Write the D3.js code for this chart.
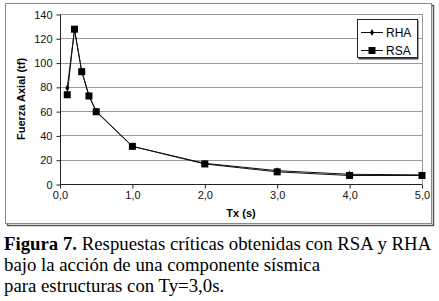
<!DOCTYPE html>
<html>
<head>
<meta charset="utf-8">
<script src="https://cdn.jsdelivr.net/npm/d3@7"></script>
<style>
  body { margin: 0; background: #fff; }
  svg { display: block; }
</style>
</head>
<body>
<div id="chart"></div>
<script>
// Datos
var periods = [0.1, 0.2, 0.3, 0.4, 0.5, 1.0, 2.0, 3.0, 4.0, 5.0];
var rha = [79, 127, 93, 73, 60, 31, 17, 11, 8, 7.5];
var rsa = [73.5, 127.5, 92.5, 72.5, 59.5, 31, 16.5, 10, 7, 7];
var xTicks = [0, 1, 2, 3, 4, 5];
var yTicks = [0, 20, 40, 60, 80, 100, 120, 140];
var seriesNames = ['RHA', 'RSA'];

var W = 439, H = 301;
var svg = d3.select('#chart').append('svg')
  .attr('width', W)
  .attr('height', H);

// marco exterior
svg.append('rect')
  .attr('x', 7.5).attr('y', 5.5)
  .attr('width', 426).attr('height', 220)
  .attr('fill', 'none').attr('stroke', '#555').attr('stroke-width', 1.5);
svg.append('rect')
  .attr('x', 5.5).attr('y', 3.5)
  .attr('width', 426).attr('height', 220)
  .attr('fill', '#fff').attr('stroke', '#888').attr('stroke-width', 1);

var x = d3.scaleLinear().domain([0, 5]).range([60, 422]);
var y = d3.scaleLinear().domain([0, 140]).range([184, 14]);

// rejilla
svg.append('g')
  .selectAll('line')
  .data(yTicks.filter(function(d) { return d > 0; }))
  .join('line')
    .attr('x1', x(0)).attr('x2', x(5))
    .attr('y1', function(d) { return Math.round(y(d)) + 0.5; })
    .attr('y2', function(d) { return Math.round(y(d)) + 0.5; })
    .attr('stroke', '#9a9a9a');

svg.append('line')
  .attr('x1', x(5) + 0.5).attr('x2', x(5) + 0.5)
  .attr('y1', y(140)).attr('y2', y(0))
  .attr('stroke', '#9a9a9a');

// ejes
var yAxis = d3.axisLeft(y)
  .tickValues(yTicks)
  .tickSize(4)
  .tickPadding(4);
var xAxis = d3.axisBottom(x)
  .tickValues(xTicks)
  .tickSize(4)
  .tickPadding(3)
  .tickFormat(function(d) { return d.toFixed(1).replace('.', ','); });

var gy = svg.append('g')
  .attr('transform', 'translate(' + (x(0) + 0.5) + ',0.5)')
  .call(yAxis);
var gx = svg.append('g')
  .attr('transform', 'translate(0,' + (y(0) + 0.5) + ')')
  .call(xAxis);

[gx, gy].forEach(function(g) {
  g.select('.domain').attr('stroke', '#222');
  g.selectAll('.tick line').attr('stroke', '#222');
  g.selectAll('text')
    .attr('fill', '#111')
    .style('font-family', 'Liberation Sans, Arial, sans-serif')
    .style('font-size', '11px');
});
gx.select('.domain').attr('d', 'M' + x(0) + ',0H' + x(5));
gy.select('.domain').attr('d', 'M0,' + y(140) + 'V' + y(0));

// titulos de ejes
svg.append('text')
  .attr('x', (x(0) + x(5)) / 2).attr('y', 217)
  .attr('text-anchor', 'middle')
  .style('font-family', 'Liberation Sans, Arial, sans-serif')
  .style('font-size', '11px').style('font-weight', 'bold')
  .text('Tx (s)');
svg.append('text')
  .attr('transform', 'translate(25,' + ((y(0) + y(140)) / 2) + ') rotate(-90)')
  .attr('text-anchor', 'middle')
  .style('font-family', 'Liberation Sans, Arial, sans-serif')
  .style('font-size', '11px').style('font-weight', 'bold')
  .text('Fuerza Axial (tf)');

// series
var line = d3.line()
  .x(function(d) { return x(d[0]); })
  .y(function(d) { return y(d[1]); });

var rhaPts = d3.zip(periods, rha);
var rsaPts = d3.zip(periods, rsa);

svg.append('path')
  .attr('d', line(rsaPts))
  .attr('fill', 'none').attr('stroke', '#111').attr('stroke-width', 1);
svg.append('path')
  .attr('d', line(rhaPts))
  .attr('fill', 'none').attr('stroke', '#111').attr('stroke-width', 1);

svg.append('g')
  .selectAll('rect')
  .data(rsaPts)
  .join('rect')
    .attr('x', function(d) { return x(d[0]) - 3.5; })
    .attr('y', function(d) { return y(d[1]) - 3.5; })
    .attr('width', 7).attr('height', 7)
    .attr('fill', '#000');

var diamond = d3.symbol().type(d3.symbolDiamond).size(14);
svg.append('g')
  .selectAll('path')
  .data(rhaPts)
  .join('path')
    .attr('transform', function(d) { return 'translate(' + x(d[0]) + ',' + y(d[1]) + ')'; })
    .attr('d', diamond)
    .attr('fill', '#000');

// leyenda
var lg = svg.append('g').attr('transform', 'translate(357,19)');
lg.append('rect')
  .attr('x', 1.5).attr('y', 1.5).attr('width', 60).attr('height', 39)
  .attr('fill', '#444');
lg.append('rect')
  .attr('x', 0.5).attr('y', 0.5).attr('width', 60).attr('height', 38)
  .attr('fill', '#fff').attr('stroke', '#222');

var items = lg.selectAll('g.item')
  .data(seriesNames)
  .join('g')
    .attr('class', 'item')
    .attr('transform', function(d, i) { return 'translate(0,' + (13 + i * 18) + ')'; });

items.append('line')
  .attr('x1', 4).attr('x2', 26).attr('y1', 0.5).attr('y2', 0.5)
  .attr('stroke', '#111');
items.each(function(d, i) {
  var g = d3.select(this);
  if (i === 0) {
    g.append('path').attr('transform', 'translate(15,0.5)').attr('d', diamond).attr('fill', '#000');
  } else {
    g.append('rect').attr('x', 11.5).attr('y', -3).attr('width', 7).attr('height', 7).attr('fill', '#000');
  }
});
items.append('text')
  .attr('x', 29).attr('y', 4.5)
  .style('font-family', 'Liberation Sans, Arial, sans-serif')
  .style('font-size', '12px')
  .text(function(d) { return d; });

// pie de figura
var capLines = [
  [{ t: 'Figura 7.', b: true }, { t: ' Respuestas críticas obtenidas con RSA y RHA', b: false }],
  [{ t: 'bajo la acción de una componente sísmica', b: false }],
  [{ t: 'para estructuras con Ty=3,0s.', b: false }]
];
var cap = svg.append('text')
  .style('font-family', 'Liberation Serif, Times New Roman, serif')
  .style('font-size', '18.8px')
  .attr('fill', '#000');
capLines.forEach(function(parts, i) {
  parts.forEach(function(p, j) {
    var ts = cap.append('tspan').text(p.t).style('font-weight', p.b ? 'bold' : 'normal');
    if (j === 0) ts.attr('x', 4).attr('y', 250 + i * 21);
  });
});
</script>
</body>
</html>
